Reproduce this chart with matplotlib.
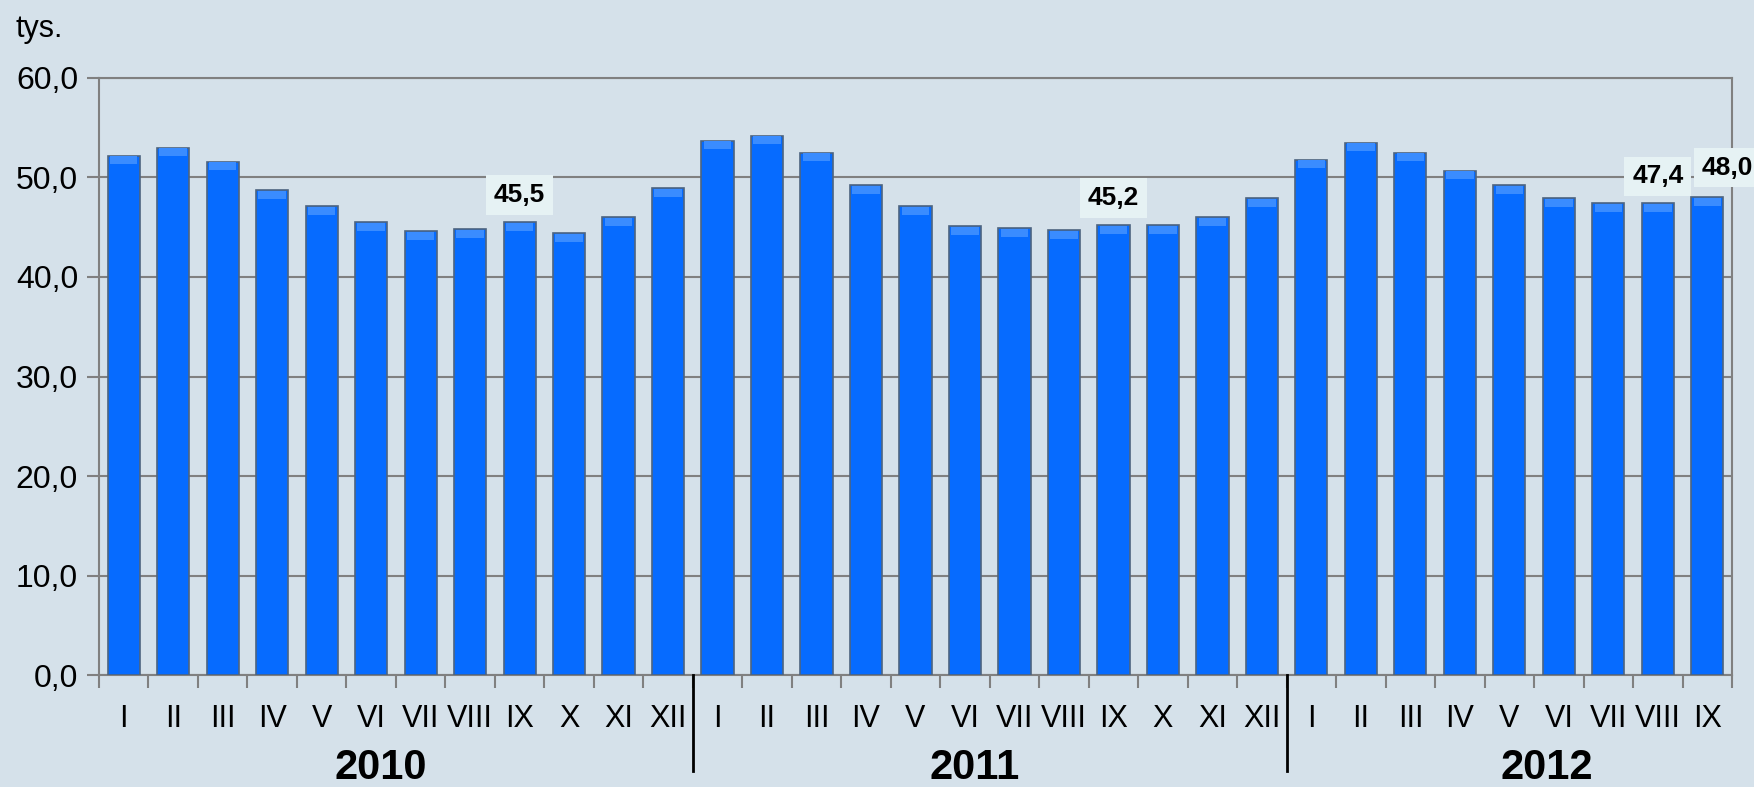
import numpy as np
import matplotlib.pyplot as plt

# monthly values (tys.)
months_2010 = ['I', 'II', 'III', 'IV', 'V', 'VI', 'VII', 'VIII', 'IX', 'X', 'XI', 'XII']
months_2011 = ['I', 'II', 'III', 'IV', 'V', 'VI', 'VII', 'VIII', 'IX', 'X', 'XI', 'XII']
months_2012 = ['I', 'II', 'III', 'IV', 'V', 'VI', 'VII', 'VIII', 'IX']
values_2010 = [52.2, 53.0, 51.6, 48.7, 47.1, 45.5, 44.6, 44.8, 45.5, 44.4, 46.0, 48.9]
values_2011 = [53.7, 54.2, 52.5, 49.2, 47.1, 45.1, 44.9, 44.7, 45.2, 45.2, 46.0, 47.9]
values_2012 = [51.8, 53.5, 52.5, 50.7, 49.2, 47.9, 47.4, 47.4, 48.0]
years = ['2010', '2011', '2012']
labelled = [8, 20, 31, 32]   # bars with value labels

months = months_2010 + months_2011 + months_2012
values = np.array(values_2010 + values_2011 + values_2012)
x = np.arange(len(values))
group_sizes = [len(values_2010), len(values_2011), len(values_2012)]
year_shift = [-0.3, -0.3, 0.75]   # year labels are not exactly centred

bg = '#d5e1ea'
fig = plt.figure(figsize=(17.54, 7.87), dpi=100, facecolor=bg)
ax = fig.add_axes([0.0564, 0.1423, 0.9311, 0.7586])
ax.set_facecolor(bg)

w = 0.65
ax.bar(x, values, width=w, color='#066bff', edgecolor='#4d6480', linewidth=1.2, zorder=3)
# lighter bevel at bar tops
ax.bar(x, np.full(len(values), 0.8), bottom=values - 0.85, width=w * 0.85,
       color='#3a8cff', linewidth=0, zorder=4)

ax.set_xlim(-0.5, len(values) - 0.5)
ax.set_ylim(0, 60)
ax.set_yticks(np.arange(0, 61, 10))
ax.set_yticklabels([f'{v:.1f}'.replace('.', ',') for v in range(0, 61, 10)],
                   fontsize=23, family='Liberation Sans')
ax.yaxis.grid(True, color='#808080', linewidth=1.5, zorder=1)
for s in ax.spines.values():
    s.set_color('#808080')
    s.set_linewidth(1.5)
ax.tick_params(axis='y', length=9, color='#808080', width=1.5, pad=6)

ax.set_xticks(x)
ax.set_xticklabels(months, fontsize=22, family='Liberation Sans')
ax.tick_params(axis='x', length=0, pad=21)
ax.set_xticks(np.arange(-0.5, len(values), 1), minor=True)
ax.tick_params(axis='x', which='minor', length=9, color='#808080', width=1.5)

# value labels
for i in labelled:
    dx = 0.4 if i == len(values) - 1 else 0
    dy = 3.0 if i == len(values) - 1 else 2.7
    ax.text(x[i] + dx, values[i] + dy, f'{values[i]:.1f}'.replace('.', ','),
            ha='center', va='center', fontsize=19, fontweight='bold',
            family='Liberation Sans', zorder=6, clip_on=False,
            bbox=dict(boxstyle='square,pad=0.3', fc='#e6f2f4', ec='none'))

# year separators and year labels
start = 0
for k, n in enumerate(group_sizes):
    end = start + n
    ax.text((start + end - 1) / 2 + year_shift[k], -9.3, years[k], ha='center', va='center',
            fontsize=30, fontweight='bold', family='Liberation Sans')
    if k < len(group_sizes) - 1:
        ax.plot([end - 0.5, end - 0.5], [0, -9.6], color='black', linewidth=2,
                clip_on=False, zorder=5)
    start = end

fig.text(0.0086, 0.963, 'tys.', fontsize=22, family='Liberation Sans', va='center')

fig.savefig('out.png', dpi=100, facecolor=bg)
